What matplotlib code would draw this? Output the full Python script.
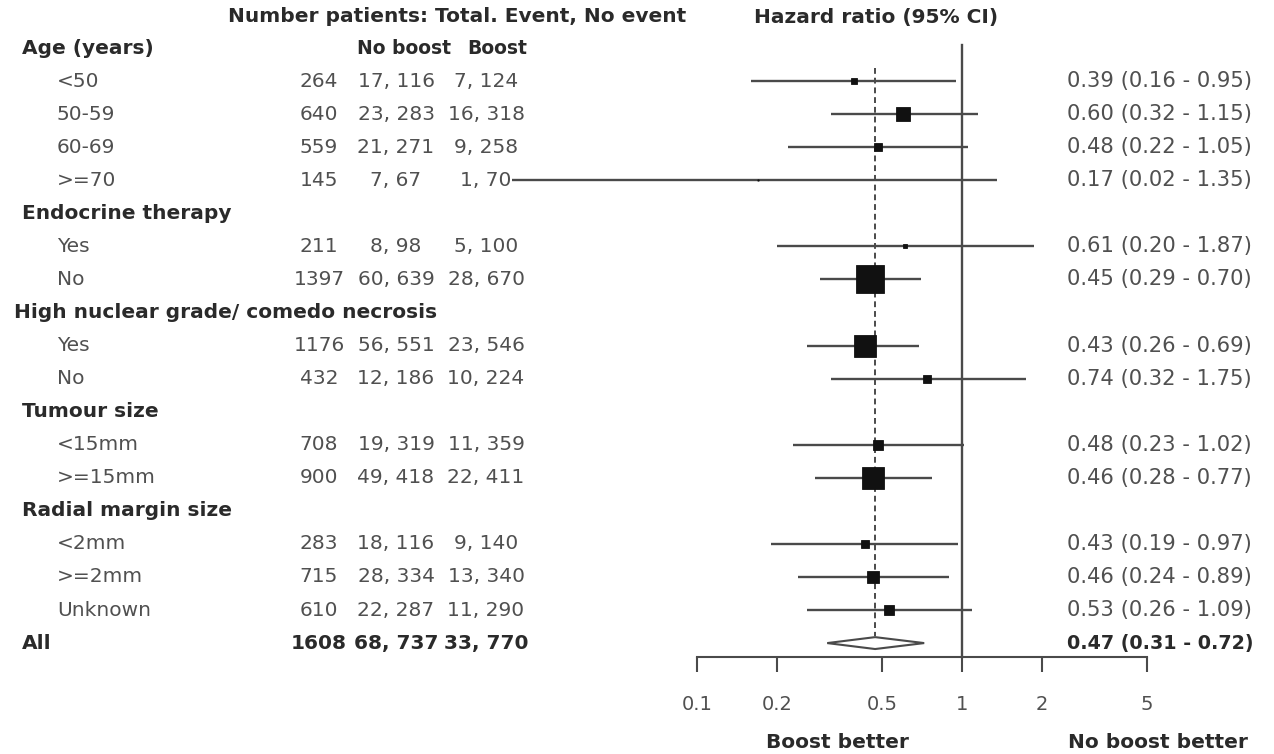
import numpy as np
import matplotlib
matplotlib.use("Agg")
import matplotlib.pyplot as plt
from matplotlib.transforms import blended_transform_factory
from matplotlib.patches import Polygon
from matplotlib.ticker import FixedLocator, FixedFormatter, NullLocator

# ---- data -------------------------------------------------------------
row_labels = ["Age (years)", "<50", "50-59", "60-69", ">=70",
              "Endocrine therapy", "Yes", "No",
              "High nuclear grade/ comedo necrosis", "Yes", "No",
              "Tumour size", "<15mm", ">=15mm",
              "Radial margin size", "<2mm", ">=2mm", "Unknown",
              "All"]
group_rows = [0, 5, 8, 11, 14]
summary_row = 18

totals = [None, 264, 640, 559, 145, None, 211, 1397, None, 1176, 432,
          None, 708, 900, None, 283, 715, 610, 1608]
noboost_event = [None, 17, 23, 21, 7, None, 8, 60, None, 56, 12,
                 None, 19, 49, None, 18, 28, 22, 68]
noboost_noevent = [None, 116, 283, 271, 67, None, 98, 639, None, 551, 186,
                   None, 319, 418, None, 116, 334, 287, 737]
boost_event = [None, 7, 16, 9, 1, None, 5, 28, None, 23, 10,
               None, 11, 22, None, 9, 13, 11, 33]
boost_noevent = [None, 124, 318, 258, 70, None, 100, 670, None, 546, 224,
                 None, 359, 411, None, 140, 340, 290, 770]
hr = [None, 0.39, 0.60, 0.48, 0.17, None, 0.61, 0.45, None, 0.43, 0.74,
      None, 0.48, 0.46, None, 0.43, 0.46, 0.53, 0.47]
ci_low = [None, 0.16, 0.32, 0.22, 0.02, None, 0.20, 0.29, None, 0.26, 0.32,
          None, 0.23, 0.28, None, 0.19, 0.24, 0.26, 0.31]
ci_high = [None, 0.95, 1.15, 1.05, 1.35, None, 1.87, 0.70, None, 0.69, 1.75,
           None, 1.02, 0.77, None, 0.97, 0.89, 1.09, 0.72]

x_ticks = [0.1, 0.2, 0.5, 1, 2, 5]
x_tick_labels = ["0.1", "0.2", "0.5", "1", "2", "5"]

# ---- layout -----------------------------------------------------------
W, H = 1274, 754
PX_01, PX_1 = 697, 962          # pixel columns of HR = 0.1 and HR = 1
PPD = PX_1 - PX_01              # pixels per decade
ROW0, ROWH = 48, 33.06          # pixel row of first line, row pitch
AXIS_ROW = (657 - ROW0) / ROWH

def row_of(py):
    return (py - ROW0) / ROWH

def fx(px):
    return px / W

plt.rcParams["font.family"] = ["DejaVu Sans"]
FS = 14.5
BOLD_C = "#2a2a2a"
TEXT_C = "#505050"
LINE_C = "#4a4a4a"

fig = plt.figure(figsize=(W / 100, H / 100), dpi=100)
ax = fig.add_axes([0, 0, 1, 1])
ax.set_xscale("log")
ax.set_xlim(10 ** (-1 - PX_01 / PPD), 10 ** ((W - PX_1) / PPD))
ax.set_ylim(row_of(H), row_of(0))

for side in ["top", "right", "left"]:
    ax.spines[side].set_visible(False)
ax.spines["bottom"].set_position(("data", AXIS_ROW))
ax.spines["bottom"].set_bounds(x_ticks[0], x_ticks[-1])
ax.spines["bottom"].set_linewidth(1.5)
ax.spines["bottom"].set_color(LINE_C)
ax.xaxis.set_major_locator(FixedLocator(x_ticks))
ax.xaxis.set_major_formatter(FixedFormatter(x_tick_labels))
ax.xaxis.set_minor_locator(NullLocator())
ax.tick_params(axis="x", direction="out", length=11, width=1.5,
               color=LINE_C, pad=16, labelsize=14, labelcolor=TEXT_C)
ax.set_yticks([])

tr = blended_transform_factory(ax.transAxes, ax.transData)

# reference lines: no effect and overall estimate
ax.plot([1, 1], [row_of(45), AXIS_ROW], color=LINE_C, lw=1.7, zorder=2)
overall = hr[summary_row]
ax.plot([overall, overall], [0.6, summary_row - 0.2], color=LINE_C,
        lw=1.4, dashes=(3, 2), zorder=2)

# confidence intervals and boxes (box area ~ inverse variance)
for i in range(len(row_labels)):
    if hr[i] is None or i == summary_row:
        continue
    ax.plot([ci_low[i], ci_high[i]], [i, i], color=LINE_C, lw=1.7,
            solid_capstyle="butt", zorder=3)
    se = (np.log(ci_high[i]) - np.log(ci_low[i])) / (2 * 1.96)
    side_px = 1.4 / se ** 2
    ax.plot(hr[i], i, marker="s", ms=side_px * 0.72, color="#111111",
            mec="#111111", mew=0.6, zorder=4)

# summary diamond
r = summary_row
diamond = Polygon([(ci_low[r], r), (hr[r], r - 0.18), (ci_high[r], r),
                   (hr[r], r + 0.18)], closed=True, facecolor="white",
                  edgecolor=LINE_C, lw=1.5, zorder=4)
ax.add_patch(diamond)

# ---- text columns -----------------------------------------------------
ax.text(fx(228), row_of(17), "Number patients: Total. Event, No event",
        transform=tr, ha="left", va="center", fontsize=FS,
        fontweight="bold", color=BOLD_C)
ax.text(fx(876), row_of(17), "Hazard ratio (95% CI)", transform=tr,
        ha="center", va="center", fontsize=FS, fontweight="bold",
        color=BOLD_C)
ax.text(fx(357), 0, "No boost", transform=tr, ha="left", va="center",
        fontsize=13.5, fontweight="bold", color=BOLD_C)
ax.text(fx(527), 0, "Boost", transform=tr, ha="right", va="center",
        fontsize=13.5, fontweight="bold", color=BOLD_C)

for i, lab in enumerate(row_labels):
    if i in group_rows:
        x0 = 14 if lab.startswith("High") else 22
        ax.text(fx(x0), i, lab, transform=tr, ha="left", va="center",
                fontsize=FS, fontweight="bold", color=BOLD_C)
        continue
    bold = i == summary_row
    kw = dict(transform=tr, va="center",
              fontweight="bold" if bold else "normal",
              color=BOLD_C if bold else TEXT_C)
    ax.text(fx(22 if bold else 57), i, lab, ha="left", fontsize=FS, **kw)
    ax.text(fx(319), i, f"{totals[i]}", ha="center", fontsize=FS, **kw)
    ax.text(fx(396), i, f"{noboost_event[i]}, {noboost_noevent[i]}",
            ha="center", fontsize=FS, **kw)
    ax.text(fx(486), i, f"{boost_event[i]}, {boost_noevent[i]}",
            ha="center", fontsize=FS, **kw)
    ax.text(fx(1067), i,
            f"{hr[i]:.2f} ({ci_low[i]:.2f} - {ci_high[i]:.2f})",
            ha="left", fontsize=13.8 if bold else 15.2, **kw)

ax.text(fx(837), row_of(743), "Boost better", transform=tr, ha="center",
        va="center", fontsize=FS, fontweight="bold", color=BOLD_C)
ax.text(fx(1158), row_of(743), "No boost better", transform=tr,
        ha="center", va="center", fontsize=FS, fontweight="bold",
        color=BOLD_C)

fig.savefig("out.png", dpi=100, facecolor="white")
